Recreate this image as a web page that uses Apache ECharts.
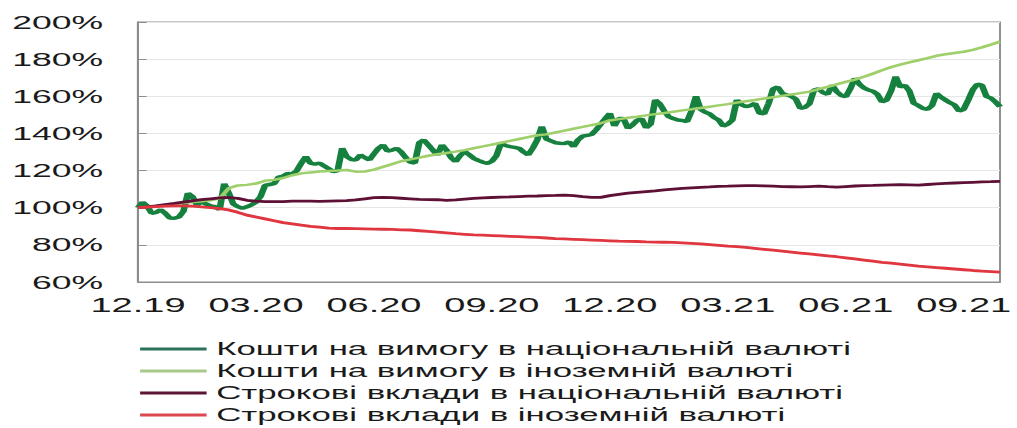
<!DOCTYPE html>
<html>
<head>
<meta charset="utf-8">
<script src="https://cdn.jsdelivr.net/npm/echarts@6/dist/echarts.min.js"></script>
<style>
html,body{margin:0;padding:0;background:#fff;overflow:hidden;width:1017px;height:428px;}
#c{position:absolute;left:0;top:0;width:535px;height:428px;transform:scaleX(1.9009);transform-origin:0 0;}
</style>
</head>
<body>
<div id="c"></div>
<script>
const tickLabels = ['12.19','03.20','06.20','09.20','12.20','03.21','06.21','09.21'];
const seriesNames = [
  'Кошти на вимогу в національній валюті',
  'Кошти на вимогу в іноземній валюті',
  'Строкові вклади в національній валюті',
  'Строкові вклади в іноземній валюті'
];
// half-week steps
const demandNational = [
100,103,101,97,97.5,99,97,94.5,94.3,95,
98,107.8,106,101.5,103.2,102,101,100.6,99,113,
108,102,100.6,99.7,100.5,101.5,103,106,112,112.5,
113,116.5,117,118.5,118,120,124,127.5,124,123.5,
124,122.5,121,119.4,120,132,127.5,126,125.7,128.4,
127,125.7,129,132,133.8,130.5,131,132,130,127,
124.5,124,135,136.5,133.8,131,128.4,133.8,131,127,
124.8,128,130.2,128.5,126.6,125.5,124.5,123.9,125,128,
134.7,133.5,132.9,132.5,132,130,128.4,132,136.5,143.7,
137,136,135,134.7,134.5,135.5,132.9,136.5,138.5,139,
139.5,142,145,148,150.8,144,148,148,142.8,144.6,
147,148,143,145,158,156,152,149,148,147.2,
147,146.3,152,160,153,151.5,150.5,148.5,147.2,144,
145,147.2,158,155.5,154.4,155,156.2,151,150.5,156.2,
164,165,161.6,160.7,160,158.5,153.5,154,156,163.4,
164,162,161,166,162.5,160.5,159.8,164,169.7,166.5,
164.5,163.4,162.7,161,157,158,163,170.6,165,166,
163,156.2,155,153.5,153,155,161.6,159.5,158,156.5,
155.3,152,153,158,163.5,166.5,166,160,159,157,
154.4
];
// weekly steps
const demandForeign = [
100,100.5,101,101.5,102,102.5,103,103.5,104,105,
110.5,112,112.3,113,114.5,115,116,117.5,118.5,119,
119.5,119.8,120,120.3,119.4,119.5,120.5,122,123.5,125,
126,127,128,128.8,129.5,130.2,131,132,133,134,
135,136,137,138,139,139.5,140.5,141.5,142.5,143.5,
144.5,145.5,147,147.7,148.4,149,149.7,150.4,151,151.7,
152.4,153,153.7,154.4,155.1,155.8,156.6,157.3,158,158.8,
159.5,160.2,161,161.7,162.5,163.8,165.1,166.4,167.7,169,
170.5,172.2,174,175.7,177,178.2,179.4,180.5,181.8,182.6,
183.3,184,185,186.3,187.8,189.4
];
const termNational = [
100,100.5,101,101.7,102.3,103,103.7,104.3,104.8,105.3,
105.5,105,104,103.5,103.3,103.3,103.3,103.5,103.6,103.5,
103.4,103.6,103.7,103.8,104.2,104.8,105.4,105.6,105.4,105.1,
104.8,104.5,104.4,104.3,104,104.2,104.6,105,105.3,105.5,
105.7,105.8,106,106.2,106.3,106.5,106.6,106.8,106.5,106,
105.6,105.6,106.5,107.2,107.8,108.3,108.7,109.1,109.6,110,
110.4,110.7,111,111.2,111.5,111.6,111.8,111.9,111.9,111.8,
111.6,111.4,111.3,111.2,111.4,111.6,111.3,111.1,111.4,111.7,
111.9,112,112.2,112.3,112.4,112.3,112.2,112.5,112.8,113.1,
113.3,113.5,113.7,113.9,114,114.2
];
const termForeign = [
100,100.3,100.6,100.8,101,101,100.8,100.5,100,99.5,
98.8,97.5,96,95,94,93,92,91.3,90.6,90,
89.5,89,88.8,88.8,88.7,88.6,88.5,88.4,88.3,88.1,
88,87.6,87.2,86.8,86.4,86,85.7,85.4,85.2,85,
84.8,84.6,84.4,84.2,84,83.7,83.4,83.2,83,82.8,
82.6,82.4,82.2,82,81.9,81.8,81.6,81.5,81.4,81.3,
81.1,80.8,80.5,80.1,79.7,79.3,79,78.6,78.1,77.6,
77.1,76.6,76.1,75.6,75.1,74.6,74.1,73.6,73,72.4,
71.8,71.2,70.6,70.1,69.6,69.1,68.6,68.2,67.8,67.4,
67,66.6,66.2,65.9,65.6,65.3
];
const weeksPerTick = 13;
const lastWeek = 95;

const toPairs = (arr, step) => arr.map((v, i) => [i * step, v]);

const colors = ['#16803f', '#9fcf6a', '#5e1035', '#e0363f'];
const legendColors = ['#2a7358', '#a8c98a', '#5a1634', '#d9494f'];

const chart = echarts.init(document.getElementById('c'), null, {renderer: 'svg'});
const font = 'Liberation Sans, Arial, sans-serif';
chart.setOption({
  animation: false,
  grid: {left: 72.6, right: 5, top: 22, bottom: 146, show: true, borderColor: '#8c8c8c', borderWidth: 1},
  xAxis: {
    type: 'value', min: 0, max: lastWeek, interval: weeksPerTick,
    axisLine: {show: true, lineStyle: {color: '#8c8c8c', width: 1}},
    axisTick: {show: false},
    splitLine: {show: false},
    axisLabel: {
      margin: 13, fontSize: 20, color: '#1a1a1a', fontFamily: font,
      formatter: v => (v % weeksPerTick === 0 && tickLabels[v / weeksPerTick]) ? tickLabels[v / weeksPerTick] : ''
    }
  },
  yAxis: {
    type: 'value', min: 60, max: 200, interval: 20,
    axisLine: {show: true, lineStyle: {color: '#8c8c8c', width: 1}},
    axisTick: {show: true, inside: true, length: 4.5, lineStyle: {color: '#8c8c8c'}},
    splitLine: {show: true, lineStyle: {color: '#e6e6e6', width: 1}},
    axisLabel: {margin: 18.4, fontSize: 18.7, color: '#1a1a1a', fontFamily: font, formatter: '{value}%'}
  },
  legend: {
    orient: 'vertical', left: 73.7, top: 340, padding: 0,
    icon: 'rect', itemWidth: 35, itemHeight: 3, itemGap: 4,
    textStyle: {fontSize: 18.3, color: '#1a1a1a', fontFamily: font},
    data: seriesNames.map((n, i) => ({name: n, itemStyle: {color: legendColors[i]}}))
  },
  series: [
    {name: seriesNames[0], type: 'line', symbol: 'none', data: toPairs(demandNational, 0.5),
     lineStyle: {color: colors[0], width: 3.5}, itemStyle: {color: colors[0]}},
    {name: seriesNames[1], type: 'line', symbol: 'none', data: toPairs(demandForeign, 1),
     lineStyle: {color: colors[1], width: 2.5}, itemStyle: {color: colors[1]}},
    {name: seriesNames[2], type: 'line', symbol: 'none', data: toPairs(termNational, 1),
     lineStyle: {color: colors[2], width: 2.8}, itemStyle: {color: colors[2]}},
    {name: seriesNames[3], type: 'line', symbol: 'none', data: toPairs(termForeign, 1),
     lineStyle: {color: colors[3], width: 2.8}, itemStyle: {color: colors[3]}}
  ]
});
</script>
</body>
</html>
